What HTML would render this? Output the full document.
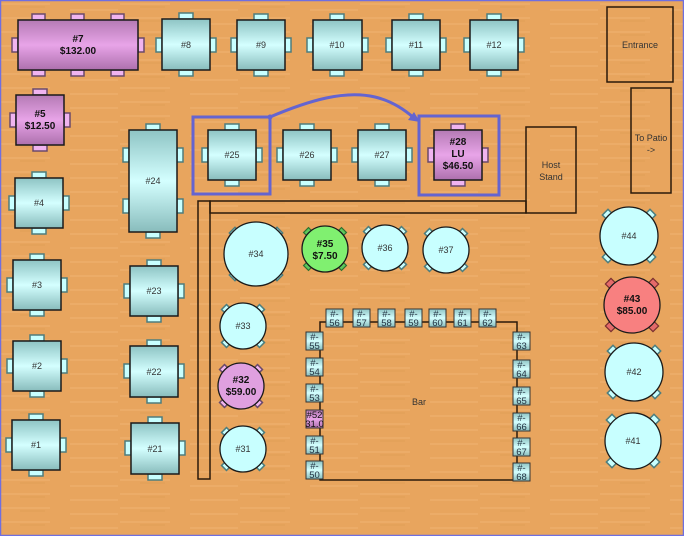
<!DOCTYPE html>
<html><head><meta charset="utf-8"><style>
html,body{margin:0;padding:0;background:#e8a55e}
svg{display:block}
text{font-family:"Liberation Sans",sans-serif;text-anchor:middle}
.lbl{font-size:9px;fill:#333}
.b{font-size:10px;font-weight:bold;fill:#111}
.ch{fill:#c8ffff;stroke:#4d7d7d;stroke-width:1.5}
.chp{fill:#f0b4f0;stroke:#6a4a6a;stroke-width:1.5}
.tb{fill:url(#teal);stroke:#1a1a1a;stroke-width:1.5}
.tp{fill:url(#pink);stroke:#1a1a1a;stroke-width:1.5}
.rc{fill:#c8ffff;stroke:#1a1a1a;stroke-width:1.3}
.st{fill:url(#teal);stroke:#333;stroke-width:1}
.stxt{font-size:9.5px;fill:#234}
.ln{fill:none;stroke:#2a1a0a;stroke-width:1.5}
</style></head><body>
<svg width="684" height="536" viewBox="0 0 684 536" xmlns="http://www.w3.org/2000/svg">
<defs>
<linearGradient id="teal" x1="0" y1="0" x2="0" y2="1"><stop offset="0" stop-color="#8ec4c4"/><stop offset="0.5" stop-color="#d4ffff"/><stop offset="1" stop-color="#88bcbc"/></linearGradient>
<linearGradient id="pink" x1="0" y1="0" x2="0" y2="1"><stop offset="0" stop-color="#b47ab4"/><stop offset="0.5" stop-color="#e8a4e8"/><stop offset="1" stop-color="#ad70ad"/></linearGradient>
<pattern id="wood" width="120" height="14" patternUnits="userSpaceOnUse"><rect width="120" height="14" fill="#e8a55e"/><path d="M0 4 H50 M70 10 H118" stroke="#f0b673" stroke-width="1.5" opacity="0.6"/><path d="M20 7 H45" stroke="#d99850" stroke-width="1" opacity="0.5"/></pattern>
</defs>
<rect width="684" height="536" fill="url(#wood)"/>
<rect x="0.5" y="0.5" width="683" height="535" fill="none" stroke="#6f6fe0" stroke-width="1.5"/>

<!-- fixtures -->
<rect x="607" y="7" width="66" height="75" class="ln"/><text x="640" y="48" class="lbl">Entrance</text>
<rect x="631" y="88" width="40" height="105" class="ln"/><text x="651" y="141" class="lbl">To Patio</text><text x="651" y="153" class="lbl">-&gt;</text>
<rect x="526" y="127" width="50" height="86" class="ln"/><text x="551" y="168" class="lbl">Host</text><text x="551" y="180" class="lbl">Stand</text>
<rect x="198" y="201" width="12" height="278" class="ln"/>
<rect x="210" y="201" width="316" height="12" class="ln"/>
<rect x="320" y="322" width="197" height="158" class="ln"/><text x="419" y="405" class="lbl">Bar</text>

<!-- square table chairs -->
<g class="ch">
<!-- #8 -->
<rect x="179" y="13" width="14" height="6"/><rect x="179" y="70" width="14" height="6"/><rect x="156" y="38" width="6" height="14"/><rect x="210" y="38" width="6" height="14"/>
<rect x="254" y="14" width="14" height="6"/><rect x="254" y="70" width="14" height="6"/><rect x="231" y="38" width="6" height="14"/><rect x="285" y="38" width="6" height="14"/>
<rect x="330" y="14" width="14" height="6"/><rect x="330" y="70" width="14" height="6"/><rect x="307" y="38" width="6" height="14"/><rect x="362" y="38" width="6" height="14"/>
<rect x="409" y="14" width="14" height="6"/><rect x="409" y="70" width="14" height="6"/><rect x="386" y="38" width="6" height="14"/><rect x="440" y="38" width="6" height="14"/>
<rect x="487" y="14" width="14" height="6"/><rect x="487" y="70" width="14" height="6"/><rect x="464" y="38" width="6" height="14"/><rect x="518" y="38" width="6" height="14"/>
<!-- #4 -->
<rect x="32" y="172" width="14" height="6"/><rect x="32" y="228" width="14" height="6"/><rect x="9" y="196" width="6" height="14"/><rect x="63" y="196" width="6" height="14"/>
<rect x="30" y="254" width="14" height="6"/><rect x="30" y="310" width="14" height="6"/><rect x="7" y="278" width="6" height="14"/><rect x="61" y="278" width="6" height="14"/>
<rect x="30" y="335" width="14" height="6"/><rect x="30" y="391" width="14" height="6"/><rect x="7" y="359" width="6" height="14"/><rect x="61" y="359" width="6" height="14"/>
<rect x="29" y="414" width="14" height="6"/><rect x="29" y="470" width="14" height="6"/><rect x="6" y="438" width="6" height="14"/><rect x="60" y="438" width="6" height="14"/>
<!-- #24 -->
<rect x="146" y="124" width="14" height="6"/><rect x="146" y="232" width="14" height="6"/><rect x="123" y="148" width="6" height="14"/><rect x="177" y="148" width="6" height="14"/><rect x="123" y="199" width="6" height="14"/><rect x="177" y="199" width="6" height="14"/>
<rect x="147" y="260" width="14" height="6"/><rect x="147" y="316" width="14" height="6"/><rect x="124" y="284" width="6" height="14"/><rect x="178" y="284" width="6" height="14"/>
<rect x="147" y="340" width="14" height="6"/><rect x="147" y="397" width="14" height="6"/><rect x="124" y="364" width="6" height="14"/><rect x="178" y="364" width="6" height="14"/>
<rect x="148" y="417" width="14" height="6"/><rect x="148" y="474" width="14" height="6"/><rect x="125" y="441" width="6" height="14"/><rect x="179" y="441" width="6" height="14"/>
<!-- 25-27 -->
<rect x="225" y="124" width="14" height="6"/><rect x="225" y="180" width="14" height="6"/><rect x="202" y="148" width="6" height="14"/><rect x="256" y="148" width="6" height="14"/>
<rect x="300" y="124" width="14" height="6"/><rect x="300" y="180" width="14" height="6"/><rect x="277" y="148" width="6" height="14"/><rect x="331" y="148" width="6" height="14"/>
<rect x="375" y="124" width="14" height="6"/><rect x="375" y="180" width="14" height="6"/><rect x="352" y="148" width="6" height="14"/><rect x="406" y="148" width="6" height="14"/>
</g>
<g class="chp">
<rect x="32" y="14" width="13" height="6"/><rect x="71" y="14" width="13" height="6"/><rect x="111" y="14" width="13" height="6"/>
<rect x="32" y="70" width="13" height="6"/><rect x="71" y="70" width="13" height="6"/><rect x="111" y="70" width="13" height="6"/>
<rect x="12" y="38" width="6" height="14"/><rect x="138" y="38" width="6" height="14"/>
<rect x="33" y="89" width="14" height="6"/><rect x="33" y="145" width="14" height="6"/><rect x="10" y="113" width="6" height="14"/><rect x="64" y="113" width="6" height="14"/>
<rect x="451" y="124" width="14" height="6"/><rect x="451" y="180" width="14" height="6"/><rect x="428" y="148" width="6" height="14"/><rect x="482" y="148" width="6" height="14"/>
</g>

<!-- square tables -->
<rect x="18" y="20" width="120" height="50" class="tp"/><text x="78" y="42" class="b">#7</text><text x="78" y="54" class="b">$132.00</text>
<rect x="162" y="19" width="48" height="51" class="tb"/><text x="186" y="48" class="lbl">#8</text>
<rect x="237" y="20" width="48" height="50" class="tb"/><text x="261" y="48" class="lbl">#9</text>
<rect x="313" y="20" width="49" height="50" class="tb"/><text x="337" y="48" class="lbl">#10</text>
<rect x="392" y="20" width="48" height="50" class="tb"/><text x="416" y="48" class="lbl">#11</text>
<rect x="470" y="20" width="48" height="50" class="tb"/><text x="494" y="48" class="lbl">#12</text>
<rect x="16" y="95" width="48" height="50" class="tp"/><text x="40" y="117" class="b">#5</text><text x="40" y="129" class="b">$12.50</text>
<rect x="15" y="178" width="48" height="50" class="tb"/><text x="39" y="206" class="lbl">#4</text>
<rect x="13" y="260" width="48" height="50" class="tb"/><text x="37" y="288" class="lbl">#3</text>
<rect x="13" y="341" width="48" height="50" class="tb"/><text x="37" y="369" class="lbl">#2</text>
<rect x="12" y="420" width="48" height="50" class="tb"/><text x="36" y="448" class="lbl">#1</text>
<rect x="129" y="130" width="48" height="102" class="tb"/><text x="153" y="184" class="lbl">#24</text>
<rect x="130" y="266" width="48" height="50" class="tb"/><text x="154" y="294" class="lbl">#23</text>
<rect x="130" y="346" width="48" height="51" class="tb"/><text x="154" y="375" class="lbl">#22</text>
<rect x="131" y="423" width="48" height="51" class="tb"/><text x="155" y="452" class="lbl">#21</text>
<rect x="208" y="130" width="48" height="50" class="tb"/><text x="232" y="158" class="lbl">#25</text>
<rect x="283" y="130" width="48" height="50" class="tb"/><text x="307" y="158" class="lbl">#26</text>
<rect x="358" y="130" width="48" height="50" class="tb"/><text x="382" y="158" class="lbl">#27</text>
<rect x="434" y="130" width="48" height="50" class="tp"/><text x="458" y="145" class="b">#28</text><text x="458" y="157" class="b">LU</text><text x="458" y="169" class="b">$46.50</text>

<!-- round tables -->
<g class="ch">
<g transform="translate(256,254)"><rect x="-25" y="-25" width="8" height="8" transform="rotate(45 -21 -21)"/><rect x="17" y="-25" width="8" height="8" transform="rotate(45 21 -21)"/><rect x="-25" y="17" width="8" height="8" transform="rotate(45 -21 21)"/><rect x="17" y="17" width="8" height="8" transform="rotate(45 21 21)"/></g>
<g transform="translate(385,248)"><rect x="-20" y="-20" width="7" height="7" transform="rotate(45 -16.5 -16.5)"/><rect x="13" y="-20" width="7" height="7" transform="rotate(45 16.5 -16.5)"/><rect x="-20" y="13" width="7" height="7" transform="rotate(45 -16.5 16.5)"/><rect x="13" y="13" width="7" height="7" transform="rotate(45 16.5 16.5)"/></g>
<g transform="translate(446,250)"><rect x="-20" y="-20" width="7" height="7" transform="rotate(45 -16.5 -16.5)"/><rect x="13" y="-20" width="7" height="7" transform="rotate(45 16.5 -16.5)"/><rect x="-20" y="13" width="7" height="7" transform="rotate(45 -16.5 16.5)"/><rect x="13" y="13" width="7" height="7" transform="rotate(45 16.5 16.5)"/></g>
<g transform="translate(243,326)"><rect x="-20" y="-20" width="7" height="7" transform="rotate(45 -16.5 -16.5)"/><rect x="13" y="-20" width="7" height="7" transform="rotate(45 16.5 -16.5)"/><rect x="-20" y="13" width="7" height="7" transform="rotate(45 -16.5 16.5)"/><rect x="13" y="13" width="7" height="7" transform="rotate(45 16.5 16.5)"/></g>
<g transform="translate(243,449)"><rect x="-20" y="-20" width="7" height="7" transform="rotate(45 -16.5 -16.5)"/><rect x="13" y="-20" width="7" height="7" transform="rotate(45 16.5 -16.5)"/><rect x="-20" y="13" width="7" height="7" transform="rotate(45 -16.5 16.5)"/><rect x="13" y="13" width="7" height="7" transform="rotate(45 16.5 16.5)"/></g>
<g transform="translate(629,236)"><rect x="-25" y="-25" width="8" height="8" transform="rotate(45 -21 -21)"/><rect x="17" y="-25" width="8" height="8" transform="rotate(45 21 -21)"/><rect x="-25" y="17" width="8" height="8" transform="rotate(45 -21 21)"/><rect x="17" y="17" width="8" height="8" transform="rotate(45 21 21)"/></g>
<g transform="translate(634,372)"><rect x="-25" y="-25" width="8" height="8" transform="rotate(45 -21 -21)"/><rect x="17" y="-25" width="8" height="8" transform="rotate(45 21 -21)"/><rect x="-25" y="17" width="8" height="8" transform="rotate(45 -21 21)"/><rect x="17" y="17" width="8" height="8" transform="rotate(45 21 21)"/></g>
<g transform="translate(633,441)"><rect x="-25" y="-25" width="8" height="8" transform="rotate(45 -21 -21)"/><rect x="17" y="-25" width="8" height="8" transform="rotate(45 21 -21)"/><rect x="-25" y="17" width="8" height="8" transform="rotate(45 -21 21)"/><rect x="17" y="17" width="8" height="8" transform="rotate(45 21 21)"/></g>
</g>
<g transform="translate(325,249)" fill="#5cc85c" stroke="#2f6f2f" stroke-width="1.2"><rect x="-20" y="-20" width="7" height="7" transform="rotate(45 -16.5 -16.5)"/><rect x="13" y="-20" width="7" height="7" transform="rotate(45 16.5 -16.5)"/><rect x="-20" y="13" width="7" height="7" transform="rotate(45 -16.5 16.5)"/><rect x="13" y="13" width="7" height="7" transform="rotate(45 16.5 16.5)"/></g>
<g transform="translate(241,386)" class="chp"><rect x="-20" y="-20" width="7" height="7" transform="rotate(45 -16.5 -16.5)"/><rect x="13" y="-20" width="7" height="7" transform="rotate(45 16.5 -16.5)"/><rect x="-20" y="13" width="7" height="7" transform="rotate(45 -16.5 16.5)"/><rect x="13" y="13" width="7" height="7" transform="rotate(45 16.5 16.5)"/></g>
<g transform="translate(632,305)" fill="#e46a6a" stroke="#7a3030" stroke-width="1.2"><rect x="-25" y="-25" width="8" height="8" transform="rotate(45 -21 -21)"/><rect x="17" y="-25" width="8" height="8" transform="rotate(45 21 -21)"/><rect x="-25" y="17" width="8" height="8" transform="rotate(45 -21 21)"/><rect x="17" y="17" width="8" height="8" transform="rotate(45 21 21)"/></g>

<circle cx="256" cy="254" r="32" class="rc"/><text x="256" y="257" class="lbl">#34</text>
<circle cx="325" cy="249" r="23" fill="#80f070" stroke="#1a1a1a" stroke-width="1.3"/><text x="325" y="247" class="b">#35</text><text x="325" y="259" class="b">$7.50</text>
<circle cx="385" cy="248" r="23" class="rc"/><text x="385" y="251" class="lbl">#36</text>
<circle cx="446" cy="250" r="23" class="rc"/><text x="446" y="253" class="lbl">#37</text>
<circle cx="243" cy="326" r="23" class="rc"/><text x="243" y="329" class="lbl">#33</text>
<circle cx="241" cy="386" r="23" fill="#e0a0e0" stroke="#1a1a1a" stroke-width="1.3"/><text x="241" y="383" class="b">#32</text><text x="241" y="395" class="b">$59.00</text>
<circle cx="243" cy="449" r="23" class="rc"/><text x="243" y="452" class="lbl">#31</text>
<circle cx="629" cy="236" r="29" class="rc"/><text x="629" y="239" class="lbl">#44</text>
<circle cx="632" cy="305" r="28" fill="#f88080" stroke="#1a1a1a" stroke-width="1.3"/><text x="632" y="302" class="b">#43</text><text x="632" y="314" class="b">$85.00</text>
<circle cx="634" cy="372" r="29" class="rc"/><text x="634" y="375" class="lbl">#42</text>
<circle cx="633" cy="441" r="28" class="rc"/><text x="633" y="444" class="lbl">#41</text>

<!-- bar stools -->
<g class="stxt">
<rect x="326" y="309" width="17" height="18" class="st"/><text x="334.5" y="317">#-</text><text x="334.5" y="326">56</text>
<rect x="353" y="309" width="17" height="18" class="st"/><text x="361.5" y="317">#-</text><text x="361.5" y="326">57</text>
<rect x="378" y="309" width="17" height="18" class="st"/><text x="386.5" y="317">#-</text><text x="386.5" y="326">58</text>
<rect x="405" y="309" width="17" height="18" class="st"/><text x="413.5" y="317">#-</text><text x="413.5" y="326">59</text>
<rect x="429" y="309" width="17" height="18" class="st"/><text x="437.5" y="317">#-</text><text x="437.5" y="326">60</text>
<rect x="454" y="309" width="17" height="18" class="st"/><text x="462.5" y="317">#-</text><text x="462.5" y="326">61</text>
<rect x="479" y="309" width="17" height="18" class="st"/><text x="487.5" y="317">#-</text><text x="487.5" y="326">62</text>
<rect x="306" y="332" width="17" height="18" class="st"/><text x="314.5" y="340">#-</text><text x="314.5" y="349">55</text>
<rect x="306" y="358" width="17" height="18" class="st"/><text x="314.5" y="366">#-</text><text x="314.5" y="375">54</text>
<rect x="306" y="384" width="17" height="18" class="st"/><text x="314.5" y="392">#-</text><text x="314.5" y="401">53</text>
<rect x="306" y="410" width="17" height="18" fill="url(#pink)" stroke="#333"/><text x="314.5" y="418" fill="#111">#52</text><text x="314.5" y="427" fill="#111">31.0</text>
<rect x="306" y="436" width="17" height="18" class="st"/><text x="314.5" y="444">#-</text><text x="314.5" y="453">51</text>
<rect x="306" y="461" width="17" height="18" class="st"/><text x="314.5" y="469">#-</text><text x="314.5" y="478">50</text>
<rect x="513" y="332" width="17" height="18" class="st"/><text x="521.5" y="340">#-</text><text x="521.5" y="349">63</text>
<rect x="513" y="360" width="17" height="18" class="st"/><text x="521.5" y="368">#-</text><text x="521.5" y="377">64</text>
<rect x="513" y="387" width="17" height="18" class="st"/><text x="521.5" y="395">#-</text><text x="521.5" y="404">65</text>
<rect x="513" y="413" width="17" height="18" class="st"/><text x="521.5" y="421">#-</text><text x="521.5" y="430">66</text>
<rect x="513" y="438" width="17" height="18" class="st"/><text x="521.5" y="446">#-</text><text x="521.5" y="455">67</text>
<rect x="513" y="463" width="17" height="18" class="st"/><text x="521.5" y="471">#-</text><text x="521.5" y="480">68</text>
</g>

<!-- selection boxes & arrow -->
<g fill="none" stroke="#6464d0" stroke-width="3">
<rect x="193" y="117" width="77" height="77"/>
<rect x="419" y="116" width="80" height="79"/>
<path d="M270 117 C 310 100, 345 90, 375 97 C 392 101, 405 110, 414 118"/>
</g>
<polygon points="420,122 408,120 414,112" fill="#6464d0"/>
<circle cx="270" cy="117" r="2.5" fill="#6464d0"/>
</svg>
</body></html>
